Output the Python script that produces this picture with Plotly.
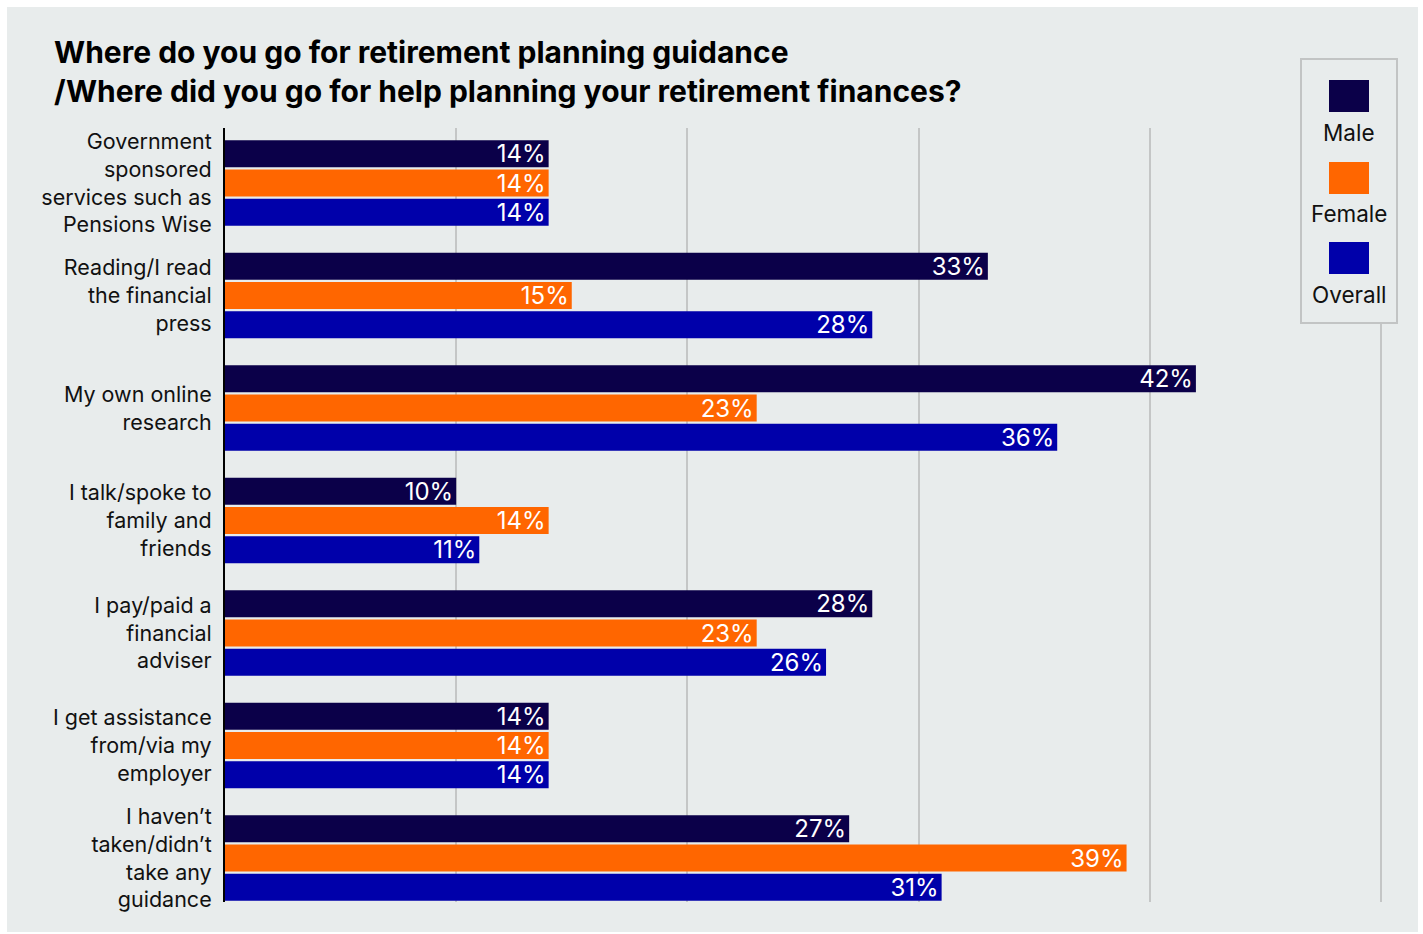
import plotly.graph_objects as go

# Survey answers (one row per source of guidance)
categories = [
    "Government<br>sponsored<br>services such as<br>Pensions Wise",
    "Reading/I read<br>the financial<br>press",
    "My own online<br>research",
    "I talk/spoke to<br>family and<br>friends",
    "I pay/paid a<br>financial<br>adviser",
    "I get assistance<br>from/via my<br>employer",
    "I haven\u2019t<br>taken/didn\u2019t<br>take any<br>guidance",
]
male = [14, 33, 42, 10, 28, 14, 27]
female = [14, 15, 23, 14, 23, 14, 39]
overall = [14, 28, 36, 11, 26, 14, 31]

series_names = ["Male", "Female", "Overall"]
series_values = [male, female, overall]
series_colors = ["#0b0049", "#ff6600", "#0000aa"]

FONT = "Inter"
BG = "#e8ecec"

fig = go.Figure()
for name, vals, col in zip(series_names, series_values, series_colors):
    fig.add_trace(go.Bar(
        y=categories,
        x=vals,
        name=name,
        orientation="h",
        marker=dict(color=col, line=dict(width=0)),
        text=[f"{v}%" for v in vals],
        textposition="inside",
        insidetextanchor="end",
        textangle=0,
        constraintext="none",
        textfont=dict(family=FONT, size=24, color="white"),
        showlegend=False,
        hoverinfo="skip",
    ))

# pixel helpers for the plot area (x 225..1382, y 128..902)
px_w, px_h = 1157.0, 774.0
def fx(x):
    return (x - 225) / px_w
def fy(y):
    return (902 - y) / px_h

shapes = [
    # grey panel behind everything
    dict(type="rect", xref="paper", yref="paper",
         x0=fx(7), x1=fx(1418), y0=fy(932), y1=fy(7),
         fillcolor=BG, line=dict(width=0), layer="below"),
    # legend frame
    dict(type="rect", xref="paper", yref="paper",
         x0=fx(1301), x1=fx(1397), y0=fy(323), y1=fy(59),
         fillcolor=BG, line=dict(color="#c2c4c4", width=2), layer="above"),
]

annotations = []

# legend: swatch with series name beneath
sw_tops = [80, 162, 242]
lab_y = [132, 213, 294]
for name, col, top, ly in zip(series_names, series_colors, sw_tops, lab_y):
    shapes.append(dict(type="rect", xref="paper", yref="paper",
                       x0=fx(1329), x1=fx(1369), y0=fy(top + 32), y1=fy(top),
                       fillcolor=col, line=dict(width=0), layer="above"))
    annotations.append(dict(xref="paper", yref="paper", x=fx(1349), y=fy(ly),
                            text=name, showarrow=False, xanchor="center", yanchor="middle",
                            font=dict(family=FONT, size=22.5, color="#111111")))

annotations.append(dict(
    xref="paper", yref="paper", x=fx(52), y=fy(32), xanchor="left", yanchor="top",
    align="left", showarrow=False,
    text="<b>Where do you go for retirement planning guidance<br>"
         "/Where did you go for help planning your retirement finances?</b>",
    font=dict(family=FONT, size=30, color="#000000"),
))

fig.update_layout(
    width=1423, height=934,
    margin=dict(l=225, r=41, t=128, b=32),
    paper_bgcolor="white",
    plot_bgcolor="rgba(0,0,0,0)",
    barmode="group",
    bargap=0.218,
    bargroupgap=0.08,
    shapes=shapes,
    annotations=annotations,
    font=dict(family=FONT, color="#111111"),
)
fig.update_xaxes(
    range=[0, 50.05], dtick=10, tick0=0,
    showgrid=True, gridcolor="#c4c6c6", gridwidth=2,
    zeroline=False, showticklabels=False, ticks="",
)
fig.update_yaxes(
    type="category",
    categoryorder="array", categoryarray=categories,
    range=[6.391, -0.489],
    showline=True, linecolor="#000000", linewidth=2,
    showgrid=False, ticks="",
    ticklabelstandoff=7,
    tickfont=dict(family=FONT, size=21.5, color="#111111"),
)

fig.write_html("out.html")
